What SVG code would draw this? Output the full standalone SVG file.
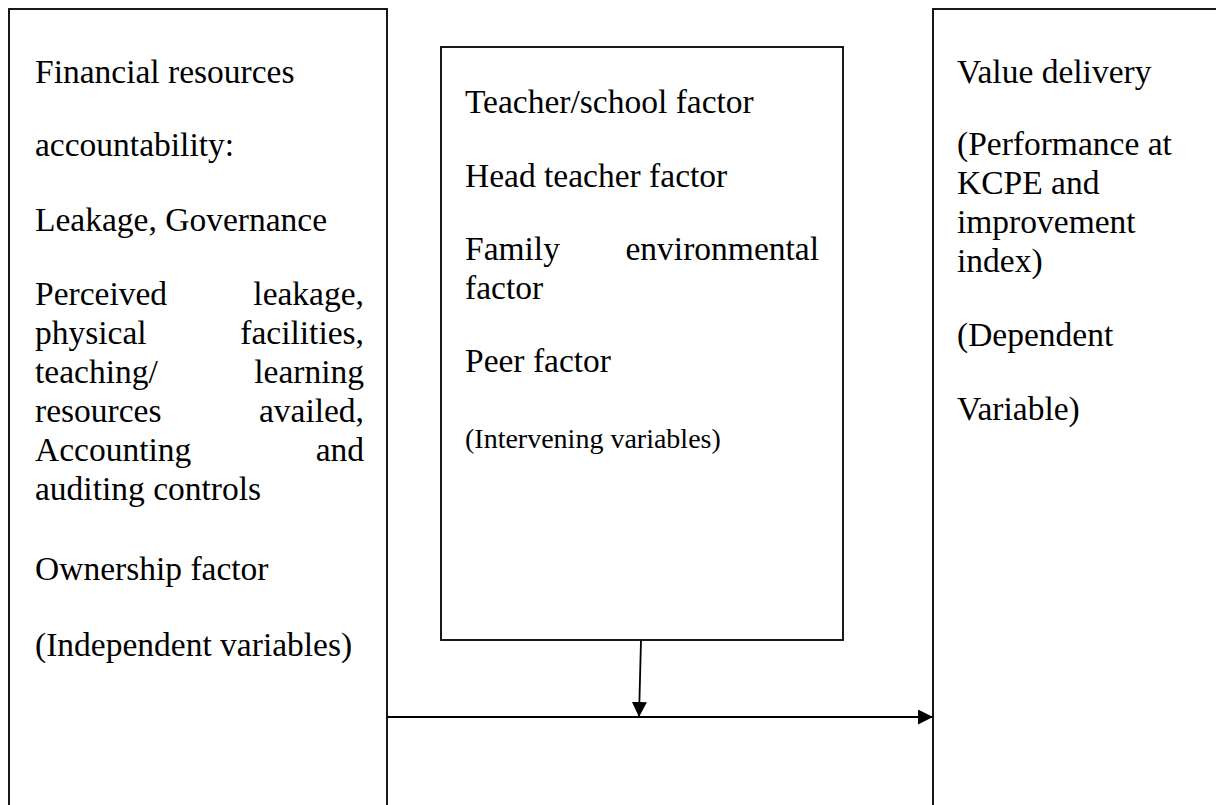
<svg xmlns="http://www.w3.org/2000/svg" width="1216" height="805" viewBox="0 0 1216 805">
<style>
.box{fill:#fff;stroke:#000;stroke-width:1.8}
.t{font-family:"Liberation Serif","Times New Roman",serif;font-size:33.5px;fill:#000}
.s{font-size:28px}
.r{text-anchor:end}
.ln{stroke:#000;stroke-width:1.8;fill:none}
</style>
<defs>
<marker id="ah" viewBox="0 0 15 15" refX="15" refY="7.5" markerWidth="15" markerHeight="15" markerUnits="userSpaceOnUse" orient="auto">
<path d="M0,0 L15,7.5 L0,15 Z" fill="#000"/>
</marker>
</defs>
<rect width="1216" height="805" fill="#fff"/>
<g id="independent">
<rect class="box" x="9" y="9" width="378" height="820"/>
<text class="t" x="35" y="83">Financial resources</text>
<text class="t" x="35" y="156">accountability:</text>
<text class="t" x="35" y="231">Leakage, Governance</text>
<text class="t" x="35" y="305">Perceived</text><text class="t r" x="364" y="305">leakage,</text>
<text class="t" x="35" y="344">physical</text><text class="t r" x="364" y="344">facilities,</text>
<text class="t" x="35" y="383">teaching/</text><text class="t r" x="364" y="383">learning</text>
<text class="t" x="35" y="422">resources</text><text class="t r" x="364" y="422">availed,</text>
<text class="t" x="35" y="461">Accounting</text><text class="t r" x="364" y="461">and</text>
<text class="t" x="35" y="500">auditing controls</text>
<text class="t" x="35" y="580">Ownership factor</text>
<text class="t" x="35" y="656">(Independent variables)</text>
</g>
<g id="intervening">
<rect class="box" x="441" y="47" width="402" height="593"/>
<text class="t" x="465" y="113">Teacher/school factor</text>
<text class="t" x="465" y="187">Head teacher factor</text>
<text class="t" x="465" y="260">Family</text><text class="t r" x="819" y="260">environmental</text>
<text class="t" x="465" y="299">factor</text>
<text class="t" x="465" y="372">Peer factor</text>
<text class="t s" x="465" y="448">(Intervening variables)</text>
</g>
<g id="dependent">
<rect class="box" x="933" y="9" width="300" height="820"/>
<text class="t" x="957" y="83">Value delivery</text>
<text class="t" x="957" y="155">(Performance at</text>
<text class="t" x="957" y="194">KCPE and</text>
<text class="t" x="957" y="233">improvement</text>
<text class="t" x="957" y="272">index)</text>
<text class="t" x="957" y="346">(Dependent</text>
<text class="t" x="957" y="420">Variable)</text>
</g>
<g id="connectors">
<line class="ln" x1="641" y1="640" x2="639" y2="717" marker-end="url(#ah)"/>
<line class="ln" x1="387" y1="717" x2="933" y2="717" marker-end="url(#ah)"/>
</g>
</svg>
